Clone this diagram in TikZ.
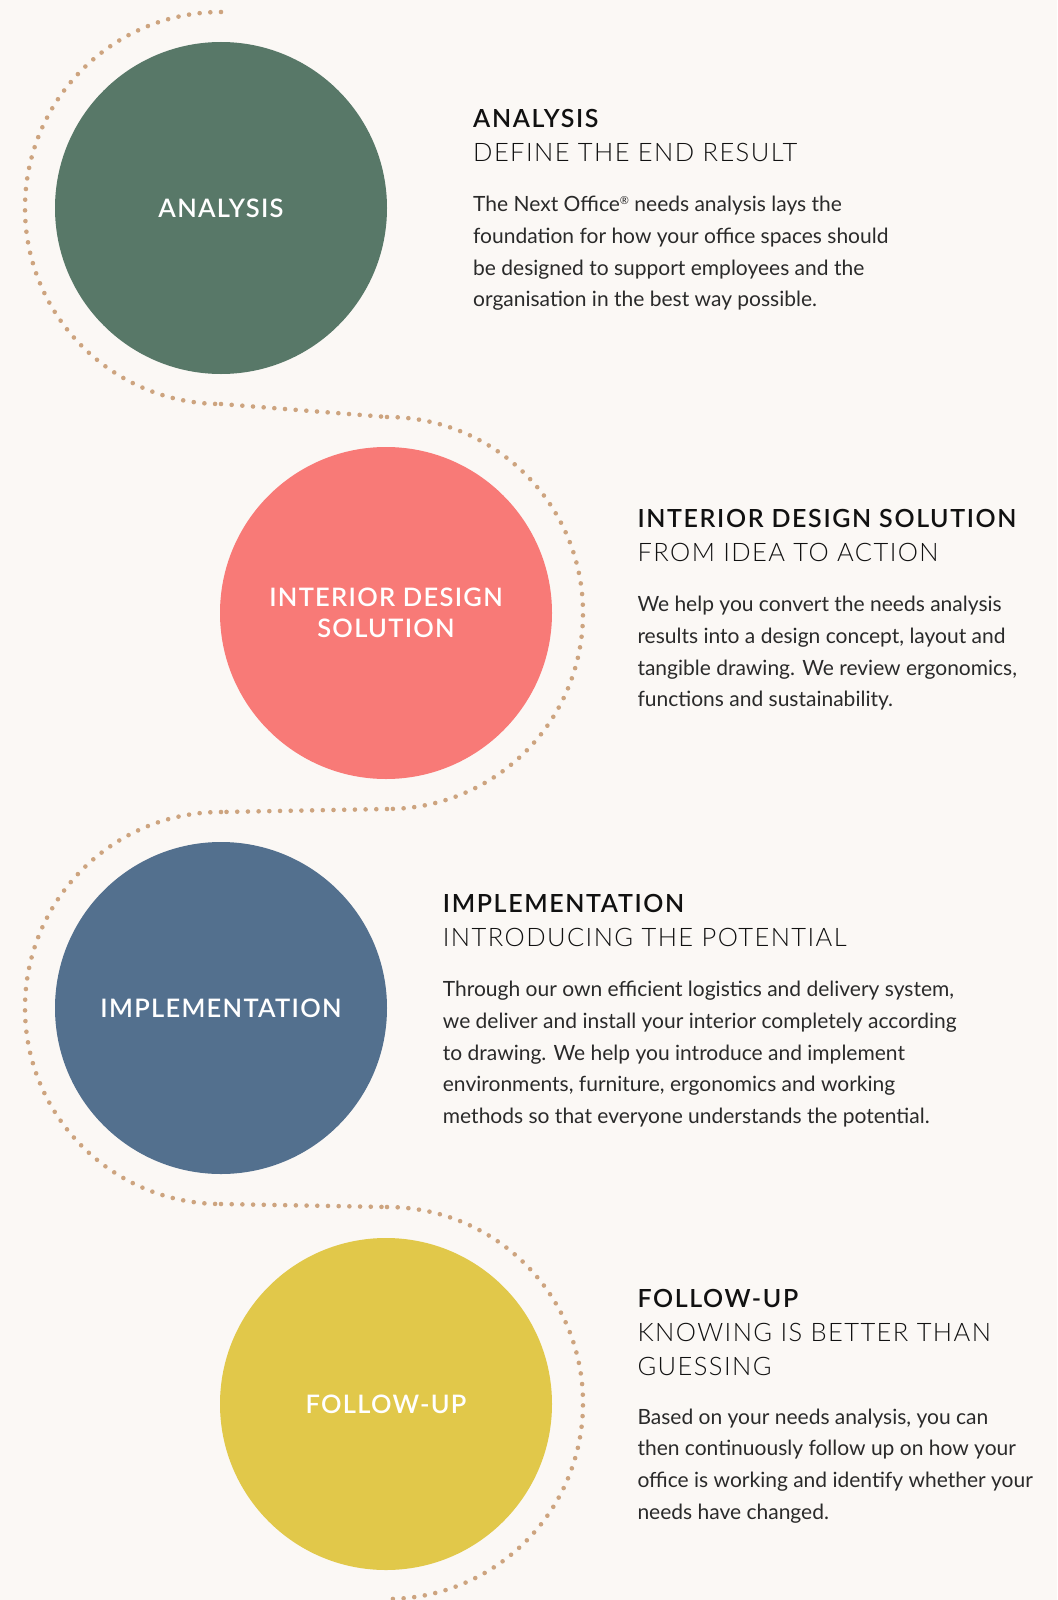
\documentclass[tikz,border=0pt]{standalone}
\usepackage{fontspec}
\setmainfont{Lato}
\newfontfamily\bodyfont{Lato}
\newfontfamily\labelfont{Lato Semibold}[LetterSpace=5]
\newfontfamily\headfont{Lato Semibold}[LetterSpace=6.5]
\newfontfamily\subfont{Lato Light}[LetterSpace=5.6]
\definecolor{paper}{HTML}{FBF8F5}
\definecolor{trailc}{HTML}{CDA47F}
\definecolor{sage}{HTML}{587868}
\definecolor{coral}{HTML}{F87A77}
\definecolor{slate}{HTML}{53708E}
\definecolor{mustard}{HTML}{E1C84A}
\definecolor{inkhead}{HTML}{111111}
\definecolor{inkbody}{HTML}{2A2A2A}
\begin{document}
\begin{tikzpicture}[x=1pt,y=-1pt,
  stage/.style={circle, minimum size=332pt, inner sep=0pt, text=white, align=center,
    font=\labelfont\fontsize{25.5}{31.3}\selectfont},
  trail/.style={draw=trailc, line width=4.6pt, line cap=round, dash pattern=on 0pt off 10.7pt},
  headline/.style={anchor=base west, inner sep=0pt, text=inkhead, font=\headfont\fontsize{25}{30}\selectfont},
  subhead/.style={anchor=base west, inner sep=0pt, text=inkhead, font=\subfont\fontsize{25.5}{34}\selectfont},
  bodytext/.style={anchor=base west, inner sep=0pt, text=inkbody, font=\bodyfont\fontsize{21}{31.7}\selectfont}]

% page
\fill[paper] (0,0) rectangle (1057,1600);
\useasboundingbox (0,0) rectangle (1057,1600);

% dotted trail winding round the four stages
\coordinate (p1) at (221,12);
\coordinate (p2) at (221,404);
\coordinate (p3) at (387,417);
\coordinate (p4) at (387,809);
\coordinate (p5) at (221,812);
\coordinate (p6) at (221,1204);
\coordinate (p7) at (387,1207);
\draw[trail] (p1) arc[start angle=270, end angle=90, radius=196];
\draw[trail] (p2) -- (p3);
\draw[trail] (p3) arc[start angle=-90, end angle=90, radius=196];
\draw[trail] (p4) -- (p5);
\draw[trail] (p5) arc[start angle=270, end angle=90, radius=196];
\draw[trail] (p6) -- (p7);
\draw[trail] (p7) arc[start angle=-90, end angle=90, radius=196];

% stage circles
\node[stage, fill=sage]    (s1) at (221,208)  {ANALYSIS};
\node[stage, fill=coral]   (s2) at (386,613)  {INTERIOR DESIGN\\SOLUTION};
\node[stage, fill=slate]   (s3) at (221,1008) {IMPLEMENTATION};
\node[stage, fill=mustard] (s4) at (386,1404) {FOLLOW-UP};

% descriptions
\node[headline] (h1) at (473,127.3) {ANALYSIS};
\node[subhead]  (u1) at (473,161.7) {DEFINE THE END RESULT};
\node[bodytext] (b1) at (473,211.7) {\vtop{%
  \hbox{The Next Office\raisebox{7.5pt}{\fontsize{11}{11}\selectfont ®} needs analysis lays the}
  \hbox{foundation for how your office spaces should}
  \hbox{be designed to support employees and the}
  \hbox{organisation in the best way possible.}}};

\node[headline] (h2) at (637.3,527.3) {INTERIOR DESIGN SOLUTION};
\node[subhead]  (u2) at (637.3,561.7) {FROM IDEA TO ACTION};
\node[bodytext] (b2) at (637.3,611.7) {\vtop{%
  \hbox{We help you convert the needs analysis}
  \hbox{results into a design concept, layout and}
  \hbox{tangible drawing. We review ergonomics,}
  \hbox{functions and sustainability.}}};

\node[headline] (h3) at (442.7,912.3) {IMPLEMENTATION};
\node[subhead]  (u3) at (442.7,946.7) {INTRODUCING THE POTENTIAL};
\node[bodytext] (b3) at (442.7,996.7) {\vtop{%
  \hbox{Through our own efficient logistics and delivery system,}
  \hbox{we deliver and install your interior completely according}
  \hbox{to drawing. We help you introduce and implement}
  \hbox{environments, furniture, ergonomics and working}
  \hbox{methods so that everyone understands the potential.}}};

\node[headline] (h4) at (637.3,1307.3) {FOLLOW-UP};
\node[subhead]  (u4) at (637.3,1341.7) {\vtop{%
  \hbox{KNOWING IS BETTER THAN}
  \hbox{GUESSING}}};
\node[bodytext] (b4) at (637.3,1424) {\vtop{%
  \hbox{Based on your needs analysis, you can}
  \hbox{then continuously follow up on how your}
  \hbox{office is working and identify whether your}
  \hbox{needs have changed.}}};
\end{tikzpicture}
\end{document}
